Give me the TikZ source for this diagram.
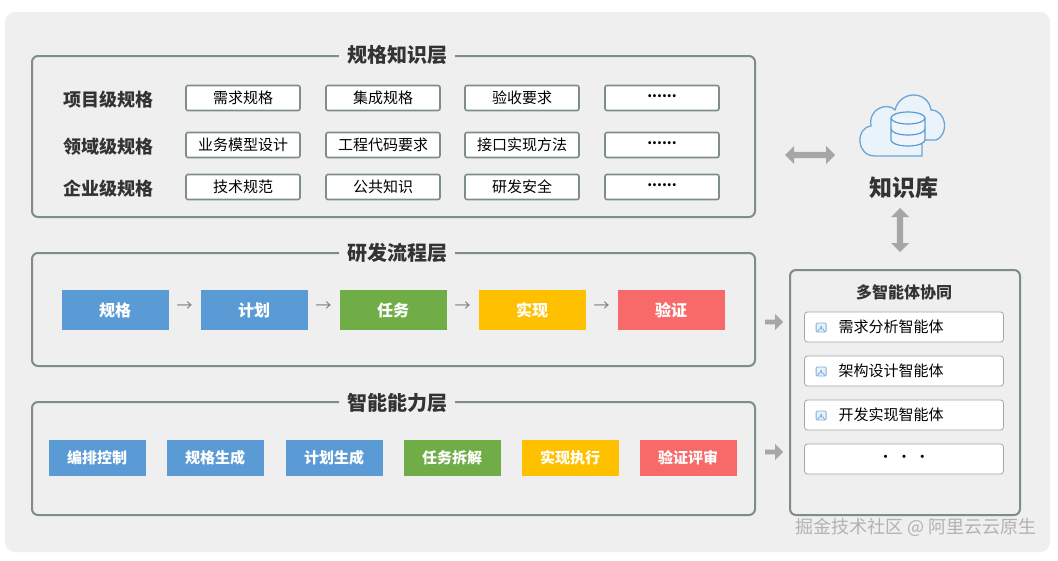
\documentclass[tikz,border=0pt]{standalone}
\usepackage{fontspec}
\setmainfont{Noto Sans CJK SC}
\usetikzlibrary{shapes.arrows,calc}
\definecolor{bg}{HTML}{EFEFEF}
\definecolor{frame}{HTML}{7F8C8D}
\definecolor{cb}{HTML}{5B9BD5}
\definecolor{cg}{HTML}{70AD47}
\definecolor{cy}{HTML}{FFC000}
\definecolor{cr}{HTML}{F86A6A}
\definecolor{txt}{HTML}{333333}
\begin{document}
\begin{tikzpicture}[x=1pt,y=-1pt,
 panel/.style={draw=frame,line width=2pt,rounded corners=6pt},
 ptitle/.style={fill=bg,inner xsep=8pt,font=\fontsize{20}{21}\selectfont\bfseries,text=txt},
 rlab/.style={font=\fontsize{18}{19}\selectfont\bfseries,text=txt},
 sbox/.style={draw=frame,line width=1.6pt,fill=white,rounded corners=2pt,minimum width=114pt,minimum height=25pt,inner sep=0pt,font=\fontsize{15}{16}\selectfont,text=black},
 pbox/.style={fill=#1,minimum width=107pt,minimum height=40pt,inner sep=0pt,font=\fontsize{16}{17}\selectfont\bfseries,text=white},
 cbox/.style={fill=#1,minimum width=97pt,minimum height=36pt,inner sep=0pt,font=\fontsize{15}{16}\selectfont\bfseries,text=white},
 abox/.style={draw=gray!70,line width=.8pt,fill=white,rounded corners=3pt,minimum width=199pt,minimum height=30pt,inner sep=0pt,font=\fontsize{15}{16}\selectfont,text=black},
 sarr/.style={font=\fontsize{16}{16}\selectfont,text=gray},
 fat/.style={single arrow,fill=gray!70,single arrow head extend=3pt,minimum height=18pt,minimum width=16pt,inner sep=1pt},
 dbl/.style={double arrow,fill=gray!70,double arrow head extend=4pt,inner sep=2pt,minimum width=18pt}]
\useasboundingbox (0,0) rectangle (1058,560);
\fill[white] (0,0) rectangle (1058,560);
\fill[bg,rounded corners=10pt] (5,12) rectangle (1050,552);
\def\dd{\raisebox{3pt}{\fontsize{14}{14}\selectfont\bfseries......}}
% panel 1
\draw[panel] (32,56) rectangle (755,217);
\node[ptitle] (t1) at (397,55) {规格知识层};
\node[rlab] (r1) at (108,100) {项目级规格};
\node[rlab] (r2) at (108,147) {领域级规格};
\node[rlab] (r3) at (108,189) {企业级规格};
\node[sbox] (a1) at (243,98) {需求规格};
\node[sbox] (a2) at (383,98) {集成规格};
\node[sbox] (a3) at (522,98) {验收要求};
\node[sbox] (a4) at (662,98) {\dd};
\node[sbox] (b1) at (243,145) {业务模型设计};
\node[sbox] (b2) at (383,145) {工程代码要求};
\node[sbox] (b3) at (522,145) {接口实现方法};
\node[sbox] (b4) at (662,145) {\dd};
\node[sbox] (c1) at (243,187) {技术规范};
\node[sbox] (c2) at (383,187) {公共知识};
\node[sbox] (c3) at (522,187) {研发安全};
\node[sbox] (c4) at (662,187) {\dd};
% panel 2
\draw[panel] (32,253) rectangle (755,366);
\node[ptitle] (t2) at (397,253) {研发流程层};
\node[pbox=cb] (p1) at (115,310) {规格};
\node[pbox=cb] (p2) at (254,310) {计划};
\node[pbox=cg] (p3) at (393,310) {任务};
\node[pbox=cy] (p4) at (532,310) {实现};
\node[pbox=cr] (p5) at (671,310) {验证};
\foreach \a/\b in {p1/p2,p2/p3,p3/p4,p4/p5}
  \node[sarr] at ($(\a)!0.5!(\b)+(0,-3)$) {→};
% panel 3
\draw[panel] (32,402) rectangle (755,515);
\node[ptitle] (t3) at (397,403) {智能能力层};
\node[cbox=cb] (q1) at (97,458) {编排控制};
\node[cbox=cb] (q2) at (215,458) {规格生成};
\node[cbox=cb] (q3) at (334,458) {计划生成};
\node[cbox=cg] (q4) at (452,458) {任务拆解};
\node[cbox=cy] (q5) at (570,458) {实现执行};
\node[cbox=cr] (q6) at (688,458) {验证评审};
% right panel
\draw[panel] (790,270) rectangle (1020,515);
\node[font=\fontsize{16}{17}\selectfont\bfseries,text=txt] (mt) at (904,292) {多智能体协同};
\node[abox,text width=199pt,align=left] (g1) at (904,327) {\hspace*{34pt}需求分析智能体};
\node[abox,text width=199pt,align=left] (g2) at (904,371) {\hspace*{34pt}架构设计智能体};
\node[abox,text width=199pt,align=left] (g3) at (904,415) {\hspace*{34pt}开发实现智能体};
\node[abox] (g4) at (904,459) {· · ·};
\foreach \g in {g1,g2,g3}{
  \draw[cb!80,line width=.8pt,rounded corners=1pt,fill=cb!15] ([xshift=12pt,yshift=-5pt]\g.west) rectangle ([xshift=22pt,yshift=4pt]\g.west);
  \draw[cb!80,line width=.8pt] ([xshift=13.5pt,yshift=-5pt]\g.west) arc[start angle=180,end angle=0,radius=3.5pt];
  \fill[cb] ([xshift=17pt]\g.west) circle (1pt);
}
% knowledge base
\fill[cb!12,draw=cb!90,line width=1.3pt]
 (875,156) .. controls (856,156) and (855,128) .. (871,126)
 .. controls (868,108) and (888,102) .. (895,110)
 .. controls (900,90) and (928,90) .. (931,110)
 .. controls (946,110) and (950,134) .. (936,140)
 -- (922,140) -- (922,156) -- cycle;
\draw[cb,line width=1.2pt,fill=cb!10] (891,118) -- (891,140) arc[start angle=180,end angle=360,x radius=17pt,y radius=6pt] -- (925,118);
\draw[cb,line width=1.2pt] (908,118) ellipse (17pt and 6pt);
\draw[cb,line width=1.2pt] (891,129) arc[start angle=180,end angle=360,x radius=17pt,y radius=6pt];
\node[font=\fontsize{23}{25}\selectfont\bfseries,text=txt] (kl) at (904,188) {知识库};
\node[dbl,minimum height=50pt] (h) at (810,155) {};
\node[dbl,minimum height=44pt,rotate=90] (v) at (900,230) {};
\node[fat] (f1) at (773,322) {};
\node[fat] (f2) at (773,452) {};
\node[font=\fontsize{18}{19}\selectfont,text=gray!60,anchor=east] (wm) at (1040,527) {掘金技术社区 @ 阿里云云原生};
\end{tikzpicture}
\end{document}
